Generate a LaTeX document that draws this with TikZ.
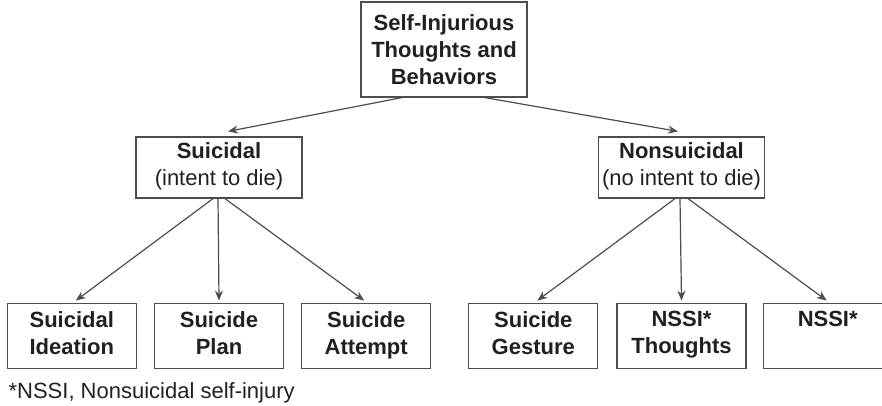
\documentclass[tikz,border=0pt]{standalone}
\usepackage{fontspec}
\setmainfont{Liberation Sans}
\usetikzlibrary{positioning,arrows.meta}
\definecolor{edgegray}{HTML}{4D4D4D}
\definecolor{inkblack}{HTML}{231F20}
\newcommand\boxstrut{\rule[-6pt]{0pt}{20pt}}
\begin{document}
\begin{tikzpicture}[x=1pt, y=-1pt, >={Stealth[length=10pt,width=8pt]}, line width=1.2pt,
    every node/.style={text=inkblack, font=\fontsize{22}{27}\selectfont},
    root box/.style={rectangle, draw=edgegray, align=center, font=\fontsize{22}{27}\selectfont\bfseries, minimum width=166pt, minimum height=95pt},
    mid box/.style={rectangle, draw=edgegray, align=center, minimum width=166pt, minimum height=61pt,
        execute at begin node=\boxstrut, execute at end node=\boxstrut},
    leaf box/.style={rectangle, draw=edgegray, align=center, font=\fontsize{22}{27}\selectfont\bfseries, minimum width=129pt, minimum height=65pt,
        execute at begin node=\boxstrut, execute at end node=\boxstrut}]
    \useasboundingbox (0,0) rectangle (882,406);
    \node[root box](top) at (444,49.5){Self-Injurious\\Thoughts and\\Behaviors};
    \node[mid box](suic) at (219,167.5){{\bfseries Suicidal}\\(intent to die)};
    \node[mid box](nons) at (681.5,167.5){{\bfseries Nonsuicidal}\\(no intent to die)};
    \node[leaf box](plan)[below=104pt of suic]{Suicide\\Plan};
    \node[leaf box](idea)[left=17pt of plan]{Suicidal\\Ideation};
    \node[leaf box](attempt)[right=17pt of plan]{Suicide\\Attempt};
    \node[leaf box](thoughts)[below=104pt of nons]{NSSI*\\Thoughts};
    \node[leaf box](gesture)[left=18pt of thoughts]{Suicide\\Gesture};
    \node[leaf box](nssi)[right=16pt of thoughts]{NSSI*\\};
    \node[inner sep=0pt, anchor=base west](note) at (8,398){*NSSI, Nonsuicidal self-injury};

\foreach \s/\sx/\t/\tx in {top/-42/suic/9, top/41/nons/-3.5}{
    \draw[->, edgegray] ([xshift=\sx pt]\s.south) -- ([xshift=\tx pt, yshift=5pt]\t.north);}
\foreach \s/\sx/\t/\tx in {suic/-6/idea/4, suic/-1/plan/0, suic/6/attempt/-2,
    nons/-6.5/gesture/4, nons/-1.5/thoughts/0, nons/6.5/nssi/-1}{
    \draw[->, edgegray] ([xshift=\sx pt]\s.south) -- ([xshift=\tx pt, yshift=2pt]\t.north);}
\end{tikzpicture}
\end{document}
